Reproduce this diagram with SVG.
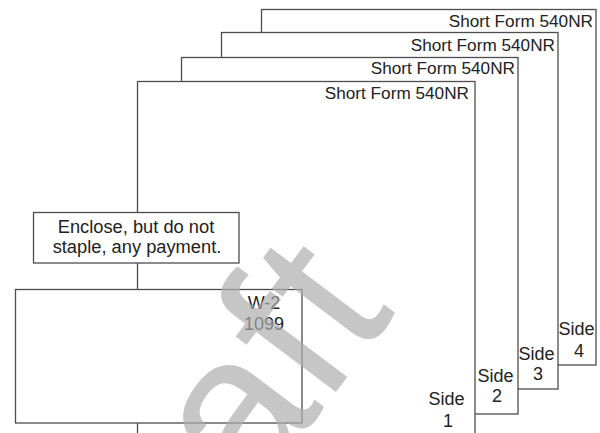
<svg xmlns="http://www.w3.org/2000/svg" width="600" height="433" viewBox="0 0 600 433">
<style>
.pg{fill:#fff;stroke:#4d4d4d;stroke-width:1.3}
.bx{fill:#fff;stroke:#4d4d4d;stroke-width:1.3}
.t{font-family:"Liberation Sans",Arial,sans-serif;fill:#222}
.sf{font-size:17.2px;text-anchor:end}
.sd{font-size:18px;text-anchor:middle}
.en{font-size:18.3px;text-anchor:middle}
.wm{font-family:"Liberation Sans",Arial,sans-serif;font-size:215px;fill:#acacac;fill-opacity:.69}
</style>
<rect width="600" height="433" fill="#fff"/>
<g id="page4">
<rect class="pg" x="261.5" y="9.5" width="334.5" height="355.5"/>
<text class="t sf" x="593" y="27">Short Form 540NR</text>
<text class="t sd" x="576.5" y="335">Side</text>
<text class="t sd" x="579" y="357">4</text>
</g>
<g id="page3">
<rect class="pg" x="221.5" y="32.5" width="336.5" height="356.5"/>
<text class="t sf" x="555" y="50.5">Short Form 540NR</text>
<text class="t sd" x="536.5" y="360">Side</text>
<text class="t sd" x="538" y="380">3</text>
</g>
<g id="page2">
<rect class="pg" x="181.5" y="57.5" width="336.5" height="356.5"/>
<text class="t sf" x="515" y="74">Short Form 540NR</text>
<text class="t sd" x="495.5" y="381.5">Side</text>
<text class="t sd" x="497" y="401.5">2</text>
</g>
<g id="page1">
<rect class="pg" x="137.5" y="81.5" width="337.5" height="380"/>
<text class="t sf" x="469" y="99">Short Form 540NR</text>
<text class="t sd" x="446.5" y="405">Side</text>
<text class="t sd" x="448" y="426.5">1</text>
</g>
<g id="connectors"></g>
<g id="enclose">
<rect class="bx" x="33.5" y="212.5" width="205.5" height="50.5"/>
<text class="t en" x="136" y="233">Enclose, but do not</text>
<text class="t en" x="137" y="253">staple, any payment.</text>
</g>
<g id="w2">
<rect class="bx" x="15.5" y="289.5" width="286.5" height="133.5"/>
<text class="t sd" x="264" y="309">W-2</text>
<text class="t sd" x="264" y="330">1099</text>
</g>
<text class="wm" transform="translate(116,684) rotate(-53)">Draft</text>
</svg>
